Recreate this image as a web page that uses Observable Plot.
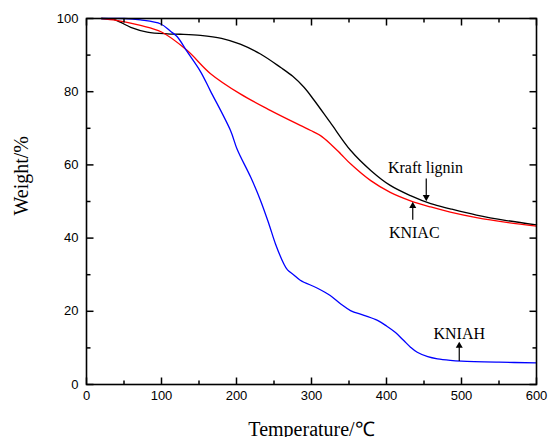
<!DOCTYPE html>
<html><head><meta charset="utf-8">
<script src="https://cdn.jsdelivr.net/npm/d3@7"></script>
<script src="https://cdn.jsdelivr.net/npm/@observablehq/plot@0.6"></script>
<style>body{margin:0;background:#fff}</style>
</head><body><div id="chart"></div>
<script>
const seriesNames = ["Kraft lignin", "KNIAC", "KNIAH"];
const seriesColors = ["#000000", "#ff0000", "#0000ff"];

const kraftT = [20, 35, 45, 59, 81, 108, 125, 152, 180, 205, 232, 259, 275, 290, 303, 325, 352, 379, 405, 432, 459, 485, 520, 560, 600];
const kraftW = [100, 99.8, 99, 97.6, 96.3, 95.8, 95.7, 95.4, 94.6, 93, 90.3, 86.6, 84.2, 81.2, 77.8, 71.6, 64, 58.5, 54.4, 51.6, 49.4, 48, 46.3, 44.8, 43.6];

const kniacT = [20, 40, 72, 100, 134, 165, 205, 245, 285, 299, 312, 325, 339, 352, 379, 405, 432, 459, 485, 520, 560, 600];
const kniacW = [100, 99.5, 98.1, 96.3, 91.3, 85, 79.4, 74.9, 70.8, 69.4, 68, 65.8, 63, 60.3, 55.7, 52.5, 50.2, 48.5, 47.1, 45.6, 44.3, 43.3];

const kniahT = [20, 50, 72, 99, 112, 121, 134, 152, 165, 192, 201, 219, 232, 243, 252, 263, 268, 276, 285, 308, 325, 339, 352, 370, 388, 400, 412, 423, 432, 441, 455, 468, 485, 500, 550, 600];
const kniahW = [100, 100, 99.6, 98.5, 96.5, 95, 91, 85.5, 80.3, 69.4, 64.2, 56.6, 50.3, 44, 38.4, 33, 31.3, 30, 28.5, 26.3, 24.3, 22, 20.2, 18.9, 17.5, 16, 14.2, 12, 10.2, 8.8, 7.6, 7.0, 6.6, 6.4, 6.1, 5.9];

const xMajor = [0, 100, 200, 300, 400, 500, 600];
const xMinor = [50, 150, 250, 350, 450, 550];
const yMajor = [0, 20, 40, 60, 80, 100];
const yMinor = [10, 30, 50, 70, 90];

const xTitle = "Temperature/\u2103";
const yTitle = "Weight/%";

// annotations: label text, label anchor (data units), arrow x, arrow tail, arrow head
const annLabels = ["Kraft lignin", "KNIAC", "KNIAH"];
const annTextX = [452, 437, 497];
const annTextY = [59.3, 41.3, 13.9];
const annArrowX = [453, 435, 497];
const annArrowTail = [56.3, 45.0, 6.4];
const annArrowHead = [51.2, 48.8, 10.6];
const annDir = [180, 0, 0];

const rows = [];
[[kraftT, kraftW], [kniacT, kniacW], [kniahT, kniahW]].forEach(([T, W], i) => {
  T.forEach((t, j) => rows.push({series: seriesNames[i], t, w: W[j]}));
});
const ann = annLabels.map((label, i) => ({
  label, tx: annTextX[i], ty: annTextY[i], ax: annArrowX[i],
  tail: annArrowTail[i], head: annArrowHead[i], dir: annDir[i]
}));

const W = 548, H = 437, mL = 86, mR = 12, mT = 18, mB = 53;
const frameW = W - mL - mR, frameH = H - mT - mB;
const xDomain = [0, 600], yDomain = [0, 100];
// tick lengths in pixels converted to data units
const xPerPx = (xDomain[1] - xDomain[0]) / frameW;
const yPerPx = (yDomain[1] - yDomain[0]) / frameH;
const tickStyle = {stroke: "#000", strokeWidth: 1.5};
const vTicks = (values, len) => [
  Plot.link(values, {x1: d => d, x2: d => d, y1: () => yDomain[0], y2: () => yDomain[0] + len * yPerPx, ...tickStyle}),
  Plot.link(values, {x1: d => d, x2: d => d, y1: () => yDomain[1], y2: () => yDomain[1] - len * yPerPx, ...tickStyle})
];
const hTicks = (values, len) => [
  Plot.link(values, {y1: d => d, y2: d => d, x1: () => xDomain[0], x2: () => xDomain[0] + len * xPerPx, ...tickStyle}),
  Plot.link(values, {y1: d => d, y2: d => d, x1: () => xDomain[1], x2: () => xDomain[1] - len * xPerPx, ...tickStyle})
];

const serif = "Liberation Serif, Times New Roman, serif";

const chart = Plot.plot({
  width: W,
  height: H,
  marginLeft: mL,
  marginRight: mR,
  marginTop: mT,
  marginBottom: mB,
  style: {fontFamily: "Liberation Sans, Arial, sans-serif", fontSize: "13px", background: "#fff", color: "#000", overflow: "visible"},
  x: {domain: xDomain},
  y: {domain: yDomain},
  color: {domain: seriesNames, range: seriesColors},
  marks: [
    Plot.line(rows, {x: "t", y: "w", z: "series", stroke: "series", curve: "catmull-rom", strokeWidth: 1.3}),
    Plot.axisX(xMajor, {anchor: "bottom", tickSize: 0, tickPadding: 6, label: null, fontSize: 13}),
    Plot.axisY(yMajor, {anchor: "left", tickSize: 0, tickPadding: 8, label: null, fontSize: 13}),
    ...vTicks(xMajor, 7),
    ...vTicks(xMinor, 4),
    ...hTicks(yMajor, 7),
    ...hTicks(yMinor, 4),
    Plot.frame({stroke: "#000", strokeWidth: 1.6}),
    Plot.link(ann, {x1: "ax", x2: "ax", y1: "tail", y2: "head", stroke: "#000", strokeWidth: 1.2}),
    Plot.dot(ann, {x: "ax", y: "head", symbol: "triangle", r: 2.6, fill: "#000", stroke: null, rotate: "dir"}),
    Plot.text(ann, {x: "tx", y: "ty", text: "label", fontFamily: serif, fontSize: 16, fill: "#000"}),
    Plot.text([xTitle], {frameAnchor: "bottom", dy: 51, text: d => d, fontFamily: serif, fontSize: 20, fill: "#000"}),
    Plot.text([yTitle], {frameAnchor: "left", dx: -65, dy: 14, rotate: -90, text: d => d, fontFamily: serif, fontSize: 20, fill: "#000"})
  ]
});
document.getElementById("chart").appendChild(chart);
</script>
</body></html>
